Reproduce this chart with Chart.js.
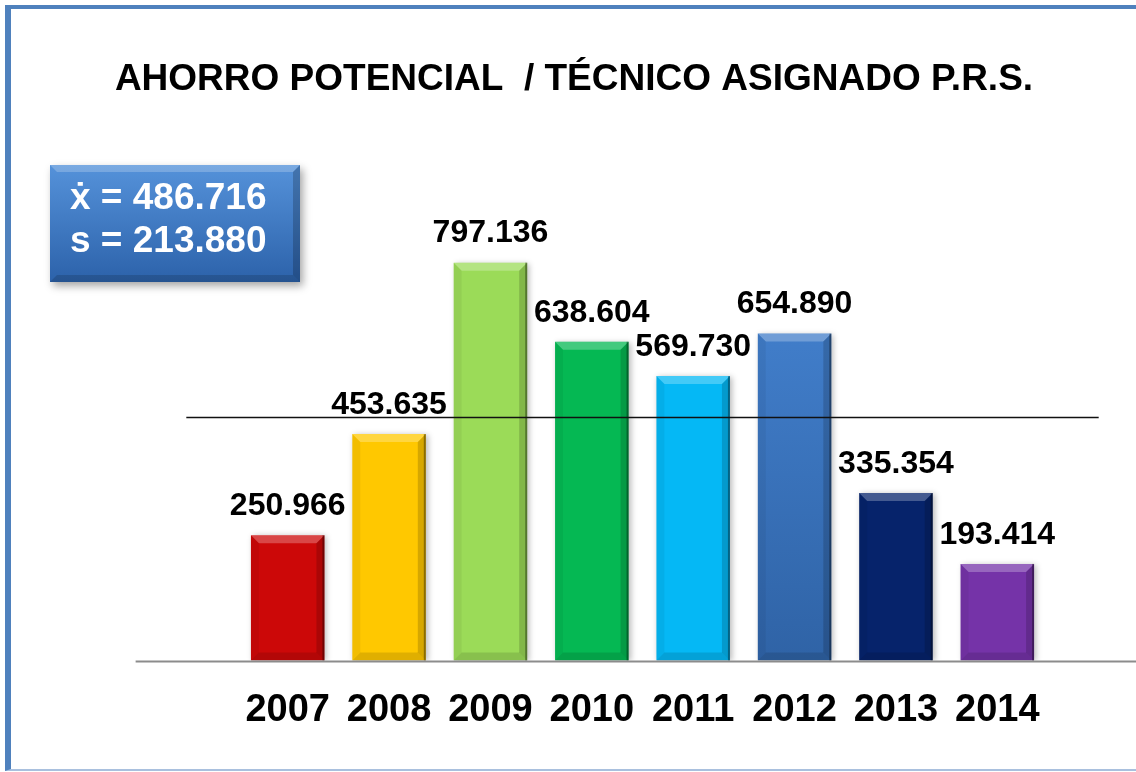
<!DOCTYPE html>
<html>
<head>
<meta charset="utf-8">
<script src="https://cdn.jsdelivr.net/npm/chart.js@4.4.1/dist/chart.umd.min.js"></script>
<style>
  html, body { margin: 0; padding: 0; background: #fff; overflow: hidden; }
  #wrap { position: relative; width: 1136px; height: 772px; }
  #frame {
    position: absolute; left: 5px; top: 5px; right: -12px; bottom: 1px;
    box-sizing: border-box;
    border-left: 6px solid #4f81bd;
    border-top: 4px solid #4f81bd;
    border-bottom: 2px solid #a9c0de;
    pointer-events: none;
  }
  canvas { position: absolute; left: 0; top: 0; }
</style>
</head>
<body>
<div id="wrap">
  <canvas id="ahorroChart" width="1136" height="772"></canvas>
  <div id="frame"></div>
</div>
<script>
/* ---- data ---- */
const years  = ["2007", "2008", "2009", "2010", "2011", "2012", "2013", "2014"];
const ahorro = [250966, 453635, 797136, 638604, 569730, 654890, 335354, 193414];
const barColors = ["#cc0808", "#ffc800", "#9bdb58", "#05b853", "#05b8f5", "#3f7fcc", "#06236b", "#7533a8"];

const FONT = "'Liberation Sans', Arial, sans-serif";

function fmt(v){
  return String(Math.round(v)).replace(/\B(?=(\d{3})+(?!\d))/g, ".");
}

/* media y desviacion tipica (muestral) */
const media = ahorro.reduce((a,b)=>a+b,0) / ahorro.length;
const desv = Math.sqrt(ahorro.reduce((a,b)=>a+(b-media)*(b-media),0) / (ahorro.length-1));

/* ---- plugins ---- */
const barShadow = {
  id: "barShadow",
  beforeDatasetsDraw(chart){
    const ctx = chart.ctx;
    ctx.save();
    ctx.shadowColor = "rgba(0,0,0,0.28)";
    ctx.shadowBlur = 6;
    ctx.shadowOffsetX = 2;
    ctx.shadowOffsetY = 1;
  },
  afterDatasetsDraw(chart){
    chart.ctx.restore();
  }
};

const bevelAndLabels = {
  id: "bevelAndLabels",
  afterDatasetsDraw(chart){
    const ctx = chart.ctx;
    const meta = chart.getDatasetMeta(0);
    const xs = chart.scales.x;
    const b = 8;

    // base line
    const step = xs.getPixelForValue(1) - xs.getPixelForValue(0);
    const yBase = chart.scales.y.getPixelForValue(0);
    ctx.save();
    ctx.strokeStyle = "#8c8c8c";
    ctx.lineWidth = 2;
    ctx.beginPath();
    ctx.moveTo(xs.getPixelForValue(0) - 1.5*step, yBase + 1);
    ctx.lineTo(chart.width, yBase + 1);
    ctx.stroke();
    ctx.restore();

    meta.data.forEach((bar, i)=>{
      const l = bar.x - bar.width/2, r = bar.x + bar.width/2;
      const t = bar.y, bt = bar.base;
      const poly = (pts, col)=>{
        ctx.beginPath();
        ctx.moveTo(pts[0][0], pts[0][1]);
        for(let k=1;k<pts.length;k++) ctx.lineTo(pts[k][0], pts[k][1]);
        ctx.closePath();
        ctx.fillStyle = col;
        ctx.fill();
      };
      ctx.save();
      poly([[l,t],[r,t],[r-b,t+b],[l+b,t+b]], "rgba(255,255,255,0.25)");
      poly([[r,t],[r,bt],[r-b,bt-b],[r-b,t+b]], "rgba(0,0,0,0.16)");
      poly([[l,bt],[r,bt],[r-b,bt-b],[l+b,bt-b]], "rgba(0,0,0,0.12)");
      poly([[l,t],[l,bt],[l+b,bt-b],[l+b,t+b]], "rgba(0,0,0,0.05)");
      ctx.fillStyle = "rgba(0,0,0,0.35)";
      ctx.fillRect(r-2, t, 2, bt-t);
      ctx.restore();

      // value label
      ctx.save();
      ctx.fillStyle = "#000";
      ctx.font = "bold 32px " + FONT;
      ctx.textAlign = "center";
      ctx.textBaseline = "middle";
      ctx.fillText(fmt(ahorro[i]), bar.x, t - 29);
      ctx.restore();
    });

    // mean line
    const ym = chart.scales.y.getPixelForValue(media);
    ctx.save();
    ctx.strokeStyle = "#111";
    ctx.lineWidth = 1.5;
    ctx.beginPath();
    ctx.moveTo(xs.getPixelForValue(0) - step, ym);
    ctx.lineTo(xs.getPixelForValue(ahorro.length-1) + step, ym);
    ctx.stroke();
    ctx.restore();
  }
};

const statsBox = {
  id: "statsBox",
  afterDraw(chart){
    const ctx = chart.ctx;
    const x = 50, y = 165, w = 250, h = 117, b = 7;
    ctx.save();
    ctx.shadowColor = "rgba(0,0,0,0.35)";
    ctx.shadowBlur = 8;
    ctx.shadowOffsetX = 3;
    ctx.shadowOffsetY = 4;
    const g = ctx.createLinearGradient(0, y, 0, y+h);
    g.addColorStop(0, "#5592da");
    g.addColorStop(1, "#2c62aa");
    ctx.fillStyle = g;
    ctx.fillRect(x, y, w, h);
    ctx.restore();

    ctx.save();
    ctx.fillStyle = "rgba(255,255,255,0.22)";
    ctx.beginPath();
    ctx.moveTo(x,y); ctx.lineTo(x+w,y); ctx.lineTo(x+w-b,y+b); ctx.lineTo(x+b,y+b); ctx.closePath(); ctx.fill();
    ctx.fillStyle = "rgba(0,0,0,0.2)";
    ctx.beginPath();
    ctx.moveTo(x+w,y); ctx.lineTo(x+w,y+h); ctx.lineTo(x+w-b,y+h-b); ctx.lineTo(x+w-b,y+b); ctx.closePath(); ctx.fill();
    ctx.fillStyle = "rgba(0,0,0,0.15)";
    ctx.beginPath();
    ctx.moveTo(x,y+h); ctx.lineTo(x+w,y+h); ctx.lineTo(x+w-b,y+h-b); ctx.lineTo(x+b,y+h-b); ctx.closePath(); ctx.fill();

    ctx.fillStyle = "#fff";
    ctx.font = "bold 37px " + FONT;
    ctx.textAlign = "left";
    ctx.textBaseline = "middle";
    ctx.fillText("\u1E8B = " + fmt(media), 70, 199);
    ctx.fillText("s = " + fmt(desv), 70, 242);
    ctx.restore();
  }
};

/* ---- chart ---- */
new Chart(document.getElementById("ahorroChart"), {
  type: "bar",
  data: {
    labels: years,
    datasets: [{
      label: "Ahorro potencial",
      data: ahorro,
      backgroundColor: function(c){
        const i = c.dataIndex;
        if(years[i] === "2012" && c.chart.chartArea){
          const ca = c.chart.chartArea;
          const g = c.chart.ctx.createLinearGradient(0, ca.top, 0, ca.bottom);
          g.addColorStop(0, "#4a8bdc");
          g.addColorStop(1, "#2f63a6");
          return g;
        }
        return barColors[i];
      },
      borderWidth: 0,
      categoryPercentage: 1,
      barPercentage: 0.725
    }]
  },
  options: {
    responsive: false,
    animation: false,
    devicePixelRatio: 1,
    layout: { padding: { left: 100, right: 88, top: 0, bottom: 12 } },
    plugins: {
      legend: { display: false },
      tooltip: { enabled: false },
      title: {
        display: true,
        text: "AHORRO POTENCIAL  / TÉCNICO ASIGNADO P.R.S.",
        color: "#000",
        font: { family: FONT, size: 37, weight: "bold" },
        padding: { top: 58, bottom: 59 }
      }
    },
    scales: {
      x: {
        grid: { display: false, drawTicks: false },
        border: { display: false },
        ticks: {
          color: "#000",
          padding: 27,
          font: { family: FONT, size: 38, weight: "bold" }
        }
      },
      y: {
        min: 0,
        max: 1000000,
        grid: { display: false },
        border: { display: false },
        ticks: { display: false },
        afterFit(scale){ scale.width = 137; }
      }
    }
  },
  plugins: [barShadow, bevelAndLabels, statsBox]
});
</script>
</body>
</html>
